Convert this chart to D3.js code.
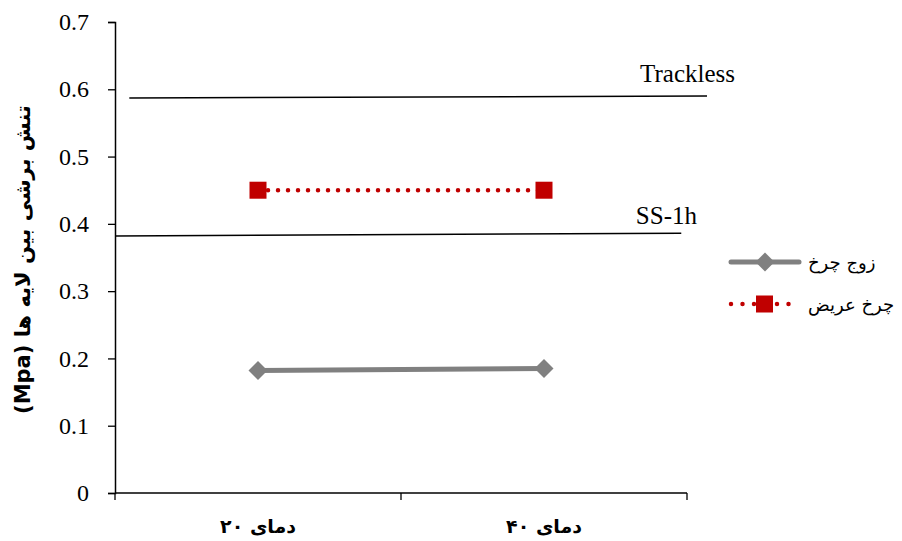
<html>
<head>
<style>
  body { margin: 0; background: #fff; }
  svg { display: block; }
</style>
<script src="https://cdn.jsdelivr.net/npm/d3@7"></script>
</head>
<body>
<svg id="chart"></svg>
<script>
let categories = ["دمای ۲۰", "دمای ۴۰"];
let pairWheel = [0.182, 0.185];     // زوج چرخ
let wideWheel = [0.45, 0.45];       // چرخ عریض
let yTicks = [0, 0.1, 0.2, 0.3, 0.4, 0.5, 0.6, 0.7];
// reference lines: value at start / end, extent in category-index units
let refNames = ["Trackless", "SS-1h"];
let refStart = [0.587, 0.382];
let refEnd = [0.590, 0.386];
let refFrom = [0.05, 0];
let refTo = [2.07, 1.98];

let width = 902, height = 541;
let margin = { top: 22, left: 115, right: 215, bottom: 48 };
let svg = d3.select("#chart").attr("width", width).attr("height", height);

let x = d3.scaleBand().domain(categories).range([margin.left, width - margin.right]);
let xi = d3.scaleLinear().domain([0, categories.length]).range([margin.left, width - margin.right]);
let y = d3.scaleLinear().domain([0, 0.7]).range([height - margin.bottom, margin.top]);

// y axis
let gy = svg.append("g").attr("transform", `translate(${margin.left},0)`)
  .call(d3.axisLeft(y).tickValues(yTicks).tickFormat(d => d === 0 ? "0" : d3.format(".1f")(d)).tickSize(7).tickPadding(19));
gy.attr("font-family", "Liberation Serif, serif").attr("font-size", 24);
gy.select(".domain").attr("stroke-width", 1.5);
gy.selectAll(".tick line").attr("stroke-width", 1.3);
gy.selectAll(".tick text").attr("fill", "#000")
  .style("font-family", "'Liberation Serif', serif").style("font-size", "24px");

// x axis
let gx = svg.append("g").attr("transform", `translate(0,${height - margin.bottom})`)
  .call(d3.axisBottom(x).tickSize(0).tickPadding(27));
gx.select(".domain").attr("stroke-width", 1.5).attr("d", `M${margin.left},0H${width - margin.right}`);
gx.selectAll(".tick text").attr("font-size", 19).attr("font-weight", "bold")
  .attr("font-family", "DejaVu Sans, sans-serif").attr("fill", "#000");
gx.selectAll(".xt").data(d3.range(categories.length + 1)).enter().append("line")
  .attr("x1", d => xi(d)).attr("x2", d => xi(d)).attr("y1", 0).attr("y2", 7)
  .attr("stroke", "#000").attr("stroke-width", 1.3);

// y title
svg.append("text")
  .attr("transform", `translate(30,${(margin.top + height - margin.bottom) / 2 + 2}) rotate(-90)`)
  .attr("text-anchor", "middle").attr("font-size", 21).attr("font-weight", "bold")
  .attr("font-family", "DejaVu Sans, sans-serif").attr("direction", "rtl")
  .text("تنش برشی بین لایه ها (Mpa)");

// reference lines
refNames.forEach((name, i) => {
  svg.append("line")
    .attr("x1", xi(refFrom[i])).attr("y1", y(refStart[i]))
    .attr("x2", xi(refTo[i])).attr("y2", y(refEnd[i]))
    .attr("stroke", "#000").attr("stroke-width", 1.5);
});
svg.append("text").attr("x", 735).attr("y", y(refEnd[0]) - 14).attr("text-anchor", "end")
  .attr("font-family", "Liberation Serif, serif").attr("font-size", 25).text(refNames[0]);
svg.append("text").attr("x", 697).attr("y", y(refEnd[1]) - 9).attr("text-anchor", "end")
  .attr("font-family", "Liberation Serif, serif").attr("font-size", 25).text(refNames[1]);

let cx = d => x(d) + x.bandwidth() / 2;
let line = d3.line().x(d => cx(d[0])).y(d => y(d[1]));

// pair wheel series
let pairData = categories.map((c, i) => [c, pairWheel[i]]);
svg.append("path").datum(pairData).attr("d", line)
  .attr("fill", "none").attr("stroke", "#808080").attr("stroke-width", 5);
svg.selectAll(".dia").data(pairData).enter().append("path")
  .attr("d", d3.symbol(d3.symbolDiamond2, 230)())
  .attr("transform", d => `translate(${cx(d[0])},${y(d[1])})`)
  .attr("fill", "#808080");

// wide wheel series
let wideData = categories.map((c, i) => [c, wideWheel[i]]);
svg.append("path").datum(wideData).attr("d", line)
  .attr("fill", "none").attr("stroke", "#c00000").attr("stroke-width", 4.5)
  .attr("stroke-dasharray", "0 10").attr("stroke-linecap", "round");
svg.selectAll(".sq").data(wideData).enter().append("rect")
  .attr("x", d => cx(d[0]) - 8.5).attr("y", d => y(d[1]) - 8.5)
  .attr("width", 17).attr("height", 17).attr("fill", "#c00000");

// legend
let legend = svg.append("g");
let ly = [262, 304];
legend.append("line").attr("x1", 731).attr("x2", 799).attr("y1", ly[0]).attr("y2", ly[0])
  .attr("stroke", "#808080").attr("stroke-width", 5).attr("stroke-linecap", "round");
legend.append("path").attr("d", d3.symbol(d3.symbolDiamond2, 230)())
  .attr("transform", `translate(765,${ly[0]})`).attr("fill", "#808080");
legend.append("line").attr("x1", 731).attr("x2", 800).attr("y1", ly[1]).attr("y2", ly[1])
  .attr("stroke", "#c00000").attr("stroke-width", 4.5)
  .attr("stroke-dasharray", "0 11.5").attr("stroke-linecap", "round");
legend.append("rect").attr("x", 756).attr("y", ly[1] - 8.5).attr("width", 17).attr("height", 17)
  .attr("fill", "#c00000");
let legNames = ["زوج چرخ", "چرخ عریض"];
legNames.forEach((n, i) => {
  legend.append("text").attr("x", 808).attr("y", ly[i] + 7).attr("direction", "rtl")
    .attr("text-anchor", "end")
    .attr("font-family", "DejaVu Sans, sans-serif").attr("font-size", 18).text(n);
});
</script>
</body>
</html>
